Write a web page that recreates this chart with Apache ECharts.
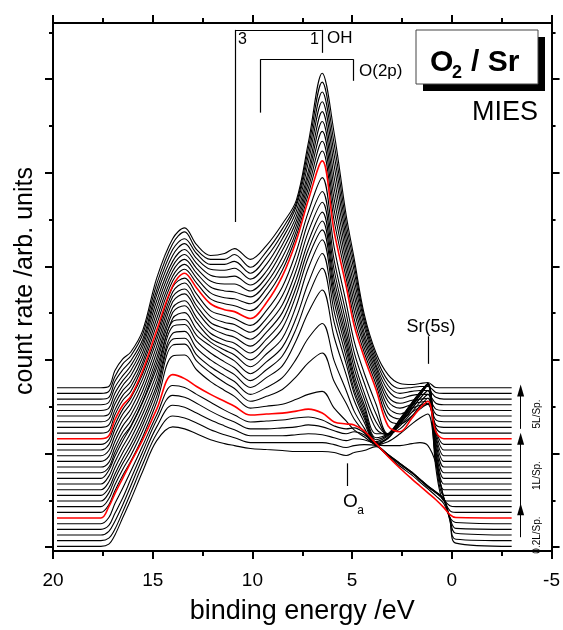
<!DOCTYPE html>
<html><head><meta charset="utf-8">
<script src="https://cdn.jsdelivr.net/npm/echarts@6/dist/echarts.min.js"></script>
<style>html,body{margin:0;padding:0;background:#fff}#c{width:563px;height:630px}</style>
</head><body><div id="c"></div>
<script>
// binding energies (eV) at which each spectrum was read
const energies = [19.8, 17.6, 17.2, 16.9, 16.5, 16.1, 15.5, 14.8, 14.0, 13.4, 12.8, 12.1, 11.4, 10.9, 10.1, 9.3, 8.5, 7.8, 7.2, 6.5, 5.9, 5.3, 4.9, 4.4, 3.8, 3.2, 2.6, 2.0, 1.6, 1.2, 0.8, 0.4, 0.1, -0.2, -3.0];
// count rate (arb. units, offset waterfall) of the 29 MIES spectra, bottom to top
const spec0 = [0.7, 0.7, 3, 12, 30, 48, 77, 108, 122, 120, 115, 109, 105, 103, 100, 99, 98, 97, 97, 97, 96, 93, 96, 98, 102, 93, 84, 75, 68, 61, 55, 49, 27, 4, 0.7];
const spec1 = [6.5, 6.5, 9, 18, 36, 55, 84, 115, 133, 131, 126, 119, 114, 111, 106, 106, 106, 106, 106, 106, 104, 101, 103, 104, 103, 94, 85, 76, 69, 62, 56, 49, 28, 8, 6.5];
const spec2 = [12.2, 12.2, 16, 26, 43, 62, 91, 122, 144, 142, 136, 129, 123, 119, 113, 113, 113, 114, 115, 114, 111, 108, 110, 109, 104, 94, 85, 76, 69, 62, 56, 48, 30, 14, 12.2];
const spec3 = [18, 18, 22, 34, 50, 69, 97, 129, 154, 152, 146, 138, 131, 127, 120, 120, 121, 122, 124, 122, 118, 115, 117, 114, 104, 93, 84, 75, 68, 61, 55, 47, 30, 19, 18];
const spec4 = [23.7, 23.7, 30, 44, 60, 77, 103, 134, 164, 162, 155, 147, 139, 134, 127, 128, 129, 131, 132, 129, 123, 120, 121, 116, 104, 92, 82, 73, 66, 59, 52, 44, 30, 25, 23.7];
const spec5 = [29.5, 29.5, 41, 54, 70, 86, 109, 140, 175, 171, 163, 155, 148, 143, 134, 135, 136, 138, 140, 136, 127, 125, 124, 118, 105, 92, 80, 69, 62, 55, 48, 40, 33, 30, 29.5];
const spec6 = [35.2, 35.2, 43, 57, 73, 87, 112, 147, 194, 195, 180, 168, 159, 153, 141, 143, 145, 150, 155, 158, 141, 128, 119, 112, 104, 103, 103, 105, 106, 103, 85, 50, 37, 35.2, 35.2];
const spec7 = [41, 41, 49, 63, 79, 93, 118, 153, 205, 206, 189, 177, 167, 161, 148, 153, 160, 173, 187, 197, 168, 146, 130, 117, 104, 107, 115, 125, 131, 135, 90, 50, 42, 41, 41];
const spec8 = [46.7, 46.7, 55, 69, 85, 99, 124, 159, 211, 212, 195, 183, 174, 168, 155, 162, 172, 191, 212, 227, 189, 159, 138, 121, 104, 111, 125, 141, 151, 159, 80, 47, 46.7, 46.7, 46.7];
const spec9 = [52.5, 52.5, 60, 74, 90, 104, 129, 164, 217, 219, 202, 190, 181, 175, 162, 172, 184, 210, 238, 261, 213, 175, 149, 127, 105, 110, 126, 143, 154, 165, 86, 52.5, 52.5, 52.5, 52.5];
const spec10 = [58.2, 58.2, 66, 80, 96, 110, 135, 170, 224, 226, 209, 197, 188, 182, 169, 180, 194, 222, 255, 283, 228, 186, 156, 131, 106, 111, 127, 144, 155, 166, 91, 58.2, 58.2, 58.2, 58.2];
const spec11 = [64, 64, 72, 86, 102, 116, 141, 176, 229, 231, 215, 204, 195, 189, 176, 188, 203, 233, 268, 298, 239, 193, 160, 134, 107, 113, 128, 145, 156, 166, 95, 64, 64, 64, 64];
const spec12 = [69.7, 69.7, 78, 92, 108, 122, 147, 182, 232, 238, 221, 208, 200, 195, 183, 196, 212, 245, 283, 312, 249, 200, 166, 137, 109, 114, 129, 146, 157, 166, 98, 69.7, 69.7, 69.7, 69.7];
const spec13 = [75.5, 75.5, 81, 96, 112, 123, 148, 187, 238, 245, 228, 212, 205, 201, 190, 204, 222, 256, 294, 322, 257, 206, 170, 141, 111, 115, 130, 147, 157, 166, 102, 75.5, 75.5, 75.5, 75.5];
const spec14 = [81.2, 81.2, 86, 101, 117, 128, 153, 192, 243, 250, 233, 217, 210, 207, 197, 211, 230, 264, 302, 331, 264, 212, 175, 145, 115, 115, 130, 146, 157, 165, 106, 81.2, 81.2, 81.2, 81.2];
const spec15 = [87, 87, 92, 107, 123, 134, 159, 198, 249, 257, 240, 223, 216, 213, 204, 218, 238, 272, 310, 340, 272, 219, 182, 151, 120, 114, 127, 143, 154, 164, 110, 87, 87, 87, 87];
const spec16 = [92.7, 92.7, 98, 113, 129, 140, 165, 204, 254, 262, 245, 228, 222, 219, 211, 225, 246, 281, 320, 350, 281, 227, 189, 157, 127, 114, 125, 140, 151, 159, 113, 92.7, 92.7, 92.7, 92.7];
const spec17 = [98.5, 98.5, 104, 119, 135, 146, 171, 210, 259, 268, 251, 234, 228, 226, 218, 232, 255, 290, 330, 361, 291, 237, 198, 167, 135, 114, 123, 137, 147, 155, 116, 98.5, 98.5, 98.5, 98.5];
const spec18 = [104.2, 104.2, 109, 124, 140, 151, 176, 215, 264, 273, 257, 240, 235, 232, 225, 240, 264, 300, 340, 375, 304, 248, 209, 177, 145, 115, 120, 133, 143, 151, 118, 104.2, 104.2, 104.2, 104.2];
const spec19 = [110, 110, 113, 129, 144, 153, 179, 220, 265, 278, 263, 247, 241, 239, 232, 248, 275, 311, 352, 392, 320, 265, 225, 193, 160, 123, 117, 131, 141, 148, 117, 110, 110, 110, 110];
const spec20 = [115.7, 115.7, 118, 134, 149, 158, 184, 226, 270, 282, 268, 252, 247, 245, 240, 255, 281, 316, 358, 402, 331, 273, 232, 198, 165, 130, 125, 133, 140, 145, 121, 115.7, 115.7, 115.7, 115.7];
const spec21 = [121.5, 121.5, 124, 139, 154, 163, 188, 232, 275, 287, 273, 258, 253, 252, 247, 262, 287, 321, 364, 412, 342, 281, 240, 203, 170, 136, 130, 137, 142, 145, 124, 121.5, 121.5, 121.5, 121.5];
const spec22 = [127.2, 127.2, 130, 145, 159, 168, 193, 238, 280, 292, 278, 264, 260, 259, 254, 268, 294, 326, 370, 422, 353, 289, 248, 208, 174, 142, 135, 141, 144, 146, 129, 127.2, 127.2, 127.2, 127.2];
const spec23 = [133, 133, 135, 150, 164, 174, 198, 244, 285, 297, 283, 270, 267, 267, 260, 274, 301, 331, 376, 432, 364, 297, 256, 213, 178, 148, 141, 145, 147, 148, 135, 133, 133, 133, 133];
const spec24 = [138.7, 138.7, 141, 156, 169, 179, 203, 250, 290, 302, 288, 276, 274, 275, 266, 280, 307, 336, 382, 442, 375, 305, 264, 218, 182, 153, 146, 149, 150, 151, 140, 138.7, 138.7, 138.7, 138.7];
const spec25 = [144.5, 144.5, 147, 162, 174, 184, 207, 256, 296, 308, 293, 282, 281, 283, 272, 287, 313, 341, 390, 452, 387, 313, 272, 224, 185, 159, 151, 154, 155, 155, 146, 144.5, 144.5, 144.5, 144.5];
const spec26 = [150.2, 150.2, 152, 168, 180, 189, 211, 261, 302, 313, 298, 287, 287, 290, 278, 294, 318, 346, 397, 462, 398, 321, 280, 229, 189, 164, 156, 158, 159, 159, 152, 150.2, 150.2, 150.2, 150.2];
const spec27 = [156, 156, 158, 173, 186, 194, 216, 267, 308, 320, 302, 292, 292, 297, 284, 300, 323, 349, 404, 472, 409, 329, 287, 233, 193, 169, 161, 162, 163, 163, 157, 156, 156, 156, 156];
const spec28 = [161.7, 161.7, 163, 179, 191, 198, 220, 273, 313, 324, 307, 296, 298, 303, 292, 306, 328, 352, 410, 481, 420, 337, 293, 237, 197, 175, 166, 165, 166, 167, 162, 161.7, 161.7, 161.7, 161.7];
const spectra = [spec0, spec1, spec2, spec3, spec4, spec5, spec6, spec7, spec8, spec9, spec10, spec11, spec12, spec13, spec14,
  spec15, spec16, spec17, spec18, spec19, spec20, spec21, spec22, spec23, spec24, spec25, spec26, spec27, spec28];
const redSpectra = [5, 19];
// tick positions
const xTicks = [20, 15, 10, 5, 0, -5];
const yMajor = [0, 95, 190, 285, 380, 475];
const yMinor = [47.5, 142.5, 237.5, 332.5, 427.5, 522.5];
// annotation anchors (eV, count rate)
const ohBracket = {x3: 10.85, x1: 6.52, top: 525, low3: 330, low1: 501.7};
const o2pBracket = {xl: 9.61, xr: 4.92, top: 495, lowL: 441, lowR: 473.3};
const srMark = {x: 1.17, y0: 214, y1: 186};
const oaMark = {x: 5.22, y0: 85, y1: 62};
const doseArrows = [[10, 38.3], [42, 110], [120, 159]];
const arrowX = -3.45;

const chart = echarts.init(document.getElementById('c'), null, {renderer: 'canvas'});
const F = '"Liberation Sans", Arial, Helvetica, sans-serif';

const series = spectra.map((s, i) => {
  const red = redSpectra.indexOf(i) >= 0;
  return {
    type: 'line', data: energies.map((e, k) => [e, s[k]]),
    smooth: 0.35, showSymbol: false, silent: true, z: red ? 4 : 3,
    lineStyle: {color: red ? '#ff0000' : '#000000', width: red ? 1.6 : 1.1}
  };
});
const seg = (a, b) => [{coord: a}, {coord: b}];
series.push({
  type: 'line', data: [], silent: true, z: 5,
  markLine: {silent: true, symbol: 'none', animation: false, label: {show: false},
    lineStyle: {color: '#000', width: 1.2, type: 'solid'},
    data: [
      seg([ohBracket.x3, ohBracket.top], [ohBracket.x1, ohBracket.top]),
      seg([ohBracket.x3, ohBracket.top], [ohBracket.x3, ohBracket.low3]),
      seg([ohBracket.x1, ohBracket.top], [ohBracket.x1, ohBracket.low1]),
      seg([o2pBracket.xl, o2pBracket.top], [o2pBracket.xr, o2pBracket.top]),
      seg([o2pBracket.xl, o2pBracket.top], [o2pBracket.xl, o2pBracket.lowL]),
      seg([o2pBracket.xr, o2pBracket.top], [o2pBracket.xr, o2pBracket.lowR]),
      seg([srMark.x, srMark.y0], [srMark.x, srMark.y1]),
      seg([oaMark.x, oaMark.y0], [oaMark.x, oaMark.y1])
    ]}
});
series.push({
  type: 'line', data: [], silent: true, z: 5,
  markLine: {silent: true, symbol: ['none', 'triangle'], symbolSize: [7, 12], animation: false,
    label: {show: false}, lineStyle: {color: '#000', width: 1, type: 'solid'},
    data: doseArrows.map(a => seg([arrowX, a[0]], [arrowX, a[1]]))}
});

const tickStyle = {color: '#000', width: 2};
const xBase = {type: 'value', inverse: true, min: -5, max: 20, interval: 5,
  axisLine: {show: true, onZero: false, lineStyle: {color: '#000', width: 2}},
  axisTick: {show: true, length: 8, lineStyle: tickStyle},
  minorTick: {show: true, splitNumber: 2, length: 5, lineStyle: tickStyle},
  splitLine: {show: false}, minorSplitLine: {show: false}};
const yBase = {type: 'value', min: -4, max: 532,
  axisLine: {show: true, onZero: false, lineStyle: {color: '#000', width: 2}},
  splitLine: {show: false}, axisLabel: {show: false}};
const txt = (x, y, text, size, opt) => ({type: 'text', x: x, y: y, silent: true, z: 10,
  rotation: (opt && opt.rot) || 0,
  style: {text: text, fill: '#000', font: ((opt && opt.bold) ? 'bold ' : '') + size + 'px ' + F,
    align: (opt && opt.align) || 'left', verticalAlign: 'middle'}});

chart.setOption({
  animation: false,
  grid: {left: 53, right: 10, top: 23, bottom: 71},
  xAxis: [
    Object.assign({}, xBase, {position: 'bottom',
      axisLabel: {fontFamily: F, fontSize: 19, color: '#000', margin: 20, showMinLabel: true, showMaxLabel: true,
        formatter: v => (xTicks.indexOf(v) >= 0 ? String(v) : '')},
      name: 'binding energy /eV', nameLocation: 'middle', nameGap: 47,
      nameTextStyle: {fontFamily: F, fontSize: 27, color: '#000'}}),
    Object.assign({}, xBase, {position: 'top', axisLabel: {show: false}})
  ],
  yAxis: [
    Object.assign({}, yBase, {position: 'left',
      axisTick: {show: true, length: 8, customValues: yMajor, lineStyle: tickStyle}}),
    Object.assign({}, yBase, {position: 'left', axisTick: {show: true, length: 4, customValues: yMinor, lineStyle: tickStyle}}),
    Object.assign({}, yBase, {position: 'right', axisTick: {show: true, length: 8, customValues: yMajor, lineStyle: tickStyle}}),
    Object.assign({}, yBase, {position: 'right', axisTick: {show: true, length: 4, customValues: yMinor, lineStyle: tickStyle}})
  ],
  graphic: [
    txt(25, 281, 'count rate /arb. units', 25, {align: 'center', rot: Math.PI / 2}),
    {type: 'rect', shape: {x: 423, y: 37, width: 122, height: 54}, style: {fill: '#000'}, silent: true, z: 8},
    {type: 'rect', shape: {x: 416, y: 30, width: 122, height: 54}, style: {fill: '#fff', stroke: '#444', lineWidth: 1}, silent: true, z: 9},
    txt(430, 62.5, 'O', 30, {bold: true}),
    txt(452, 73, '2', 18, {bold: true}),
    txt(471, 62.5, '/ Sr', 30, {bold: true}),
    txt(538, 112.5, 'MIES', 27, {align: 'right'}),
    txt(238, 40, '3', 16),
    txt(319, 40, '1', 16, {align: 'right'}),
    txt(327, 38.5, 'OH', 17),
    txt(359, 71, 'O(2p)', 17),
    txt(431, 327, 'Sr(5s)', 18, {align: 'center'}),
    txt(350.5, 502, 'O', 19, {align: 'center'}),
    txt(360.5, 511, 'a', 12, {align: 'center'}),
    txt(537, 535, '0.2L/Sp.', 10, {align: 'center', rot: Math.PI / 2}),
    txt(537, 475.5, '1L/Sp.', 10, {align: 'center', rot: Math.PI / 2}),
    txt(537, 414, '5L/Sp.', 10, {align: 'center', rot: Math.PI / 2})
  ],
  series: series
});
</script></body></html>
